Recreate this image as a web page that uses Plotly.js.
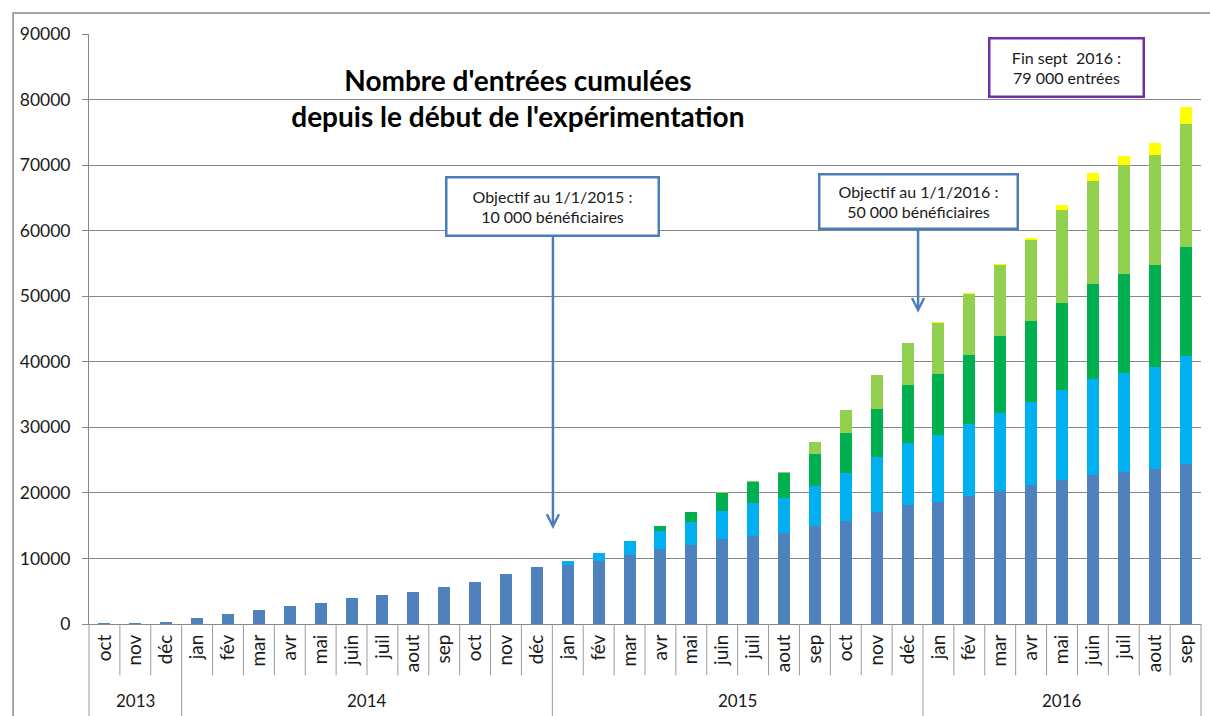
<!DOCTYPE html>
<html><head><meta charset="utf-8">
<script src="https://cdn.plot.ly/plotly-3.0.1.min.js"></script>
<style>html,body{margin:0;padding:0;background:#fff}#chart{width:1210px;height:716px}</style>
</head><body><div id="chart"></div>
<script>
const months = ['oct','nov','déc',
  'jan','fév','mar','avr','mai','juin','juil','aout','sep','oct','nov','déc',
  'jan','fév','mar','avr','mai','juin','juil','aout','sep','oct','nov','déc',
  'jan','fév','mar','avr','mai','juin','juil','aout','sep'];
const years = ['2013','2013','2013',
  '2014','2014','2014','2014','2014','2014','2014','2014','2014','2014','2014','2014',
  '2015','2015','2015','2015','2015','2015','2015','2015','2015','2015','2015','2015',
  '2016','2016','2016','2016','2016','2016','2016','2016','2016'];
const yearLabels = ['2013','2014','2015','2016'];

// stacked segment values
const serieBleu = [150,150,350,
  860,1470,2080,2690,3200,3910,4420,4880,5690,6450,7620,8700,
  9040,9650,10560,11470,12080,12940,13500,13910,14920,15740,17060,18170,
  18680,19490,20360,21220,22040,22750,23260,23720,24480];
const serieBleuClair = [0,0,0,
  0,0,0,0,0,0,0,0,0,0,0,50,
  560,1160,2030,2790,3550,4370,4930,5380,6200,7260,8370,9450,
  10180,11040,11850,12570,13580,14600,15060,15420,16330];
const serieVert = [0,0,0,
  0,0,0,0,0,0,0,0,0,0,0,0,
  0,0,0,660,1430,2690,3300,3760,4820,6190,7360,8850,
  9310,10540,11680,12360,13400,14580,15130,15580,16700];
const serieVertClair = [0,0,0,
  0,0,0,0,0,0,0,0,0,0,0,0,
  0,0,0,0,0,100,50,100,1830,3400,5210,6410,
  7800,9230,10830,12380,14080,15630,16500,16850,18780];
const serieJaune = [0,0,0,
  0,0,0,0,0,0,0,0,0,0,0,0,
  0,0,0,0,0,0,0,0,0,0,0,0,
  130,210,150,400,860,1170,1470,1780,2640];

const keys = months.map((m,i)=>m+' '+years[i]);

const colors = ['#4F81BD','#00B0F0','#00B050','#92D050','#FFFF00'];
const series = [serieBleu, serieBleuClair, serieVert, serieVertClair, serieJaune];
const traces = series.map((s,k)=>({
  type:'bar', x:keys, y:s, marker:{color:colors[k], line:{width:0}}, hoverinfo:'y'
}));

// axis furniture: month separators and year dividers
const shapes = [];
for(let i=0;i<keys.length-1;i++){
  const isYearBoundary = years[i]!==years[i+1];
  shapes.push({type:'line', xref:'x', yref:'paper', x0:i+0.5, x1:i+0.5, y0:0,
    y1: isYearBoundary ? -0.16 : -0.087, line:{color:'#9a9a9a', width:1}});
}
shapes.push({type:'line', xref:'paper', yref:'paper', x0:0, x1:0, y0:0, y1:-0.16, line:{color:'#9a9a9a', width:1}});
shapes.push({type:'line', xref:'paper', yref:'paper', x0:1, x1:1, y0:0, y1:-0.16, line:{color:'#9a9a9a', width:1}});
// outer frame
shapes.push({type:'rect', xref:'paper', yref:'paper', x0:-0.0683, x1:1.05, y0:-0.3, y1:1.0356,
  line:{color:'#868686', width:1.5}, fillcolor:'rgba(0,0,0,0)', layer:'below'});

const annotations = [];
yearLabels.forEach((yl)=>{
  const idx = years.map((y,i)=>y===yl?i:-1).filter(i=>i>=0);
  const mid = (idx[0]+idx[idx.length-1])/2;
  annotations.push({x:mid, xref:'x', y:-0.1305, yref:'paper', text:yl, showarrow:false,
    font:{size:17}, xanchor:'center', yanchor:'middle'});
});
annotations.push({x:14.52, xref:'x', y:14490, yref:'y', text:'Objectif au 1/1/2015 :<br>10 000 bénéficiaires',
  showarrow:true, arrowhead:5, arrowsize:0.95, arrowwidth:2.5, arrowcolor:'#4A7EBB', ax:0, ay:-323,
  bordercolor:'#4A7EBB', borderwidth:2.5, borderpad:0, bgcolor:'#fff', width:210, height:56, font:{size:16}});
annotations.push({x:26.34, xref:'x', y:47480, yref:'y', text:'Objectif au 1/1/2016 :<br>50 000 bénéficiaires',
  showarrow:true, arrowhead:5, arrowsize:0.95, arrowwidth:2.5, arrowcolor:'#4A7EBB', ax:0, ay:-111,
  bordercolor:'#4A7EBB', borderwidth:2.5, borderpad:0, bgcolor:'#fff', width:196, height:52, font:{size:16}});
annotations.push({x:0.879, xref:'paper', y:0.944, yref:'paper', text:'Fin sept  2016 :<br>79 000 entrées',
  showarrow:false, xanchor:'center', yanchor:'middle',
  bordercolor:'#7030A0', borderwidth:2.5, borderpad:0, bgcolor:'#fff', width:152, height:56, font:{size:16}});

const layout = {
  width:1210, height:716,
  margin:{l:89, r:9, t:34, b:92},
  barmode:'stack', bargap:0.61, showlegend:false,
  paper_bgcolor:'#fff', plot_bgcolor:'#fff',
  font:{family:'Lato, "Open Sans", sans-serif', color:'#1a1a1a', size:15},
  title:{text:"<b>Nombre d'entrées cumulées<br>depuis le début de l'expérimentation</b>",
    xref:'container', yref:'container', x:0.428, xanchor:'center', y:0.873, yanchor:'middle',
    font:{size:28, color:'#000'}},
  xaxis:{type:'category', tickvals:keys, ticktext:months, tickangle:-90, ticks:'',
    showline:true, linecolor:'#868686', linewidth:1, showgrid:false, zeroline:false,
    tickfont:{size:19}, range:[-0.5, keys.length-0.5], fixedrange:true, ticklabelstandoff:2},
  yaxis:{range:[0,90000], dtick:10000, tick0:0, tickformat:'d', showgrid:true, gridcolor:'#868686', gridwidth:1,
    showline:true, linecolor:'#868686', linewidth:1, ticks:'outside', ticklen:6, tickcolor:'#868686',
    tickfont:{size:17.5}, zeroline:false, ticklabelstandoff:8},
  shapes:shapes, annotations:annotations
};
Plotly.newPlot('chart', traces, layout, {displayModeBar:false, staticPlot:true});
</script></body></html>
